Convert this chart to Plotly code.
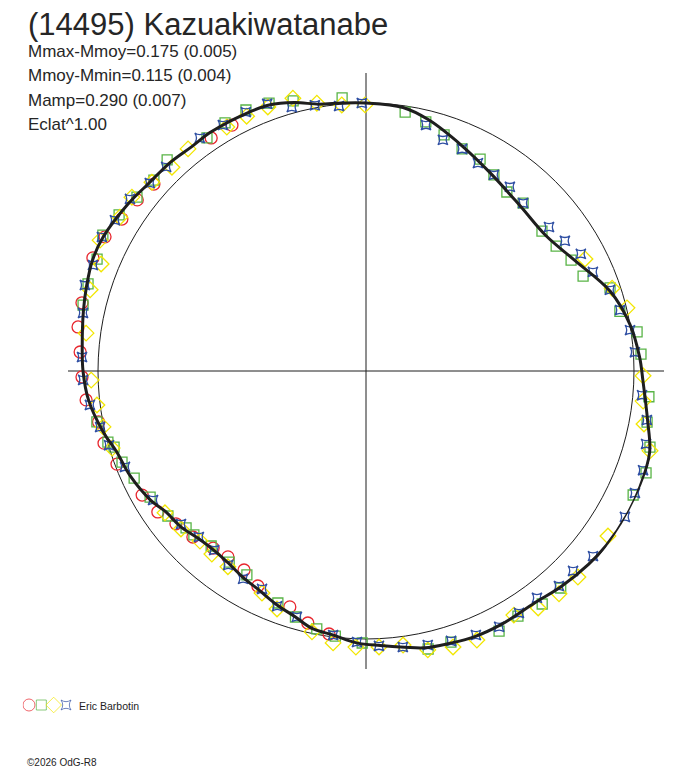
import plotly.graph_objects as go

# Fitted lightcurve (phase in degrees, radius relative to mean = 1)
fit_phase = [0, 8, 14, 23, 32, 43, 53, 62, 72, 80, 87, 92, 100, 106, 113, 119, 126, 131,
             138, 144, 152, 158, 163, 168, 172, 177, 182, 187, 192, 196, 201, 206, 211,
             216, 220, 225, 230, 235, 239, 246, 252, 257, 264, 270, 275, 282, 287, 292,
             297, 305, 311, 317, 322, 327, 335, 340, 345, 350, 355, 360]
fit_r = [1.000, 0.993, 0.966, 0.914, 0.873, 0.843, 0.840, 0.881, 0.959, 1.000, 1.022,
         1.034, 1.067, 1.101, 1.110, 1.112, 1.108, 1.100, 1.085, 1.070, 1.072, 1.071,
         1.063, 1.056, 1.041, 1.026, 1.015, 0.993, 0.981, 0.955, 0.933, 0.910, 0.896,
         0.881, 0.877, 0.884, 0.903, 0.914, 0.937, 0.963, 0.978, 1.007, 1.041, 1.056,
         1.063, 1.078, 1.090, 1.101, 1.101, 1.085, 1.071, 1.067, 1.060, 1.063, 1.060,
         1.056, 1.037, 1.011, 1.004, 1.000]

# Session 1 (red circles)
red_phase = [188.0, 193.0, 197.9, 206.7, 211.5, 216.6, 220.8, 226.2, 231.2, 235.9, 241.0,
             249.5, 254.6, 259.2, 264.1, 268.8, 273.8, 278.7, 283.5, 292.5, 297.2, 301.9,
             306.8, 311.4, 326.4, 331.4]
red_r = [0.991, 0.965, 0.925, 0.898, 0.871, 0.864, 0.873, 0.895, 0.910, 0.938, 0.955,
         0.992, 1.014, 1.016, 1.050, 1.060, 1.069, 1.087, 1.090, 1.103, 1.095, 1.073,
         1.066, 1.055, 1.044, 1.045]

# Session 2 (green squares)
green_phase = [8.6, 13.5, 18.3, 23.4, 28.3, 33.1, 38.2, 43.1, 51.5, 56.7, 61.6, 66.4, 71.2,
               76.8, 81.8, 86.5, 95.2, 100.3, 105.0, 110.0, 114.9, 119.9, 124.8, 138.1,
               142.9, 148.2, 152.9, 162.6, 167.4, 180.8, 186.6, 190.8, 196.0, 200.8, 210.3,
               215.6, 221.5, 226.4, 228.9, 233.8, 239.7, 245.2, 249.5, 253.2, 254.6, 259.3,
               283.1, 287.4, 292.6, 297.3, 302.3, 307.2, 312.0, 316.7, 325.7, 330.4, 335.3,
               340.1, 344.9, 355.0]
green_r = [0.977, 0.956, 0.928, 0.903, 0.898, 0.874, 0.850, 0.858, 0.839, 0.849, 0.870,
           0.884, 0.962, 0.973, 1.022, 1.028, 1.060, 1.066, 1.097, 1.112, 1.099, 1.115,
           1.118, 1.088, 1.090, 1.076, 1.090, 1.060, 1.063, 1.015, 0.996, 0.980, 0.955,
           0.926, 0.881, 0.877, 0.872, 0.887, 0.891, 0.916, 0.933, 0.953, 0.972, 0.982,
           0.999, 1.022, 1.084, 1.087, 1.087, 1.105, 1.090, 1.073, 1.065, 1.082, 1.053,
           1.065, 1.072, 1.063, 1.044, 1.023]

# Session 3 (yellow diamonds)
yellow_phase = [359.8, 62.9, 71.4, 76.4, 91.0, 96.2, 100.8, 105.7, 114.5, 119.2, 124.3,
                129.3, 134.2, 139.1, 144.0, 148.8, 157.6, 162.5, 167.5, 172.3, 177.3, 182.1,
                186.9, 191.7, 200.5, 205.1, 215.2, 220.1, 224.3, 229.5, 234.8, 253.1, 258.0,
                262.8, 268.1, 277.7, 286.4, 292.0, 296.2, 302.0, 306.6, 311.4, 316.4, 321.3,
                330.3, 334.9, 339.6, 345.0, 349.6, 354.8]
yellow_r = [0.993, 0.918, 0.969, 1.002, 1.034, 1.040, 1.056, 1.101, 1.124, 1.124, 1.093,
            1.114, 1.103, 1.100, 1.093, 1.065, 1.086, 1.080, 1.066, 1.032, 1.031, 1.031,
            1.022, 0.994, 0.948, 0.915, 0.894, 0.893, 0.887, 0.908, 0.918, 0.990, 1.003,
            1.012, 1.026, 1.054, 1.073, 1.066, 1.106, 1.083, 1.088, 1.065, 1.050, 1.062,
            1.048, 1.050, 1.051, 1.054, 1.016, 0.997]

# Session 4 (blue stars)
blue_phase = [359.1, 13.7, 18.4, 23.4, 28.3, 33.1, 38.0, 43.1, 51.8, 56.8, 61.4, 66.4,
              71.6, 76.5, 81.2, 86.0, 95.0, 99.9, 104.6, 109.7, 114.4, 119.4, 124.2, 129.2,
              134.0, 138.1, 143.0, 147.7, 152.5, 157.4, 162.5, 167.3, 172.4, 177.3, 181.9,
              187.1, 195.7, 200.7, 205.5, 210.6, 215.4, 220.3, 225.2, 230.4, 238.8, 248.3,
              253.9, 258.1, 263.0, 268.2, 272.8, 281.6, 287.0, 291.2, 296.9, 301.0, 306.1,
              311.0, 315.6, 324.5, 329.8, 335.1, 339.7, 344.3, 349.1, 354.2]
blue_r = [1.000, 0.945, 0.909, 0.903, 0.881, 0.874, 0.872, 0.858, 0.869, 0.887, 0.913,
          0.924, 0.959, 0.975, 0.997, 1.006, 1.034, 1.064, 1.080, 1.098, 1.102, 1.109,
          1.115, 1.093, 1.074, 1.078, 1.060, 1.068, 1.076, 1.067, 1.056, 1.048, 1.039,
          1.027, 1.012, 0.993, 0.953, 0.938, 0.901, 0.901, 0.888, 0.876, 0.879, 0.896,
          0.929, 0.968, 0.998, 1.014, 1.038, 1.056, 1.061, 1.078, 1.097, 1.093, 1.105,
          1.093, 1.090, 1.069, 1.066, 1.068, 1.062, 1.065, 1.063, 1.023, 1.010, 0.994]

title = "(14495) Kazuakiwatanabe"
stats = ["Mmax-Mmoy=0.175 (0.005)", "Mmoy-Mmin=0.115 (0.004)",
         "Mamp=0.290 (0.007)", "Eclat^1.00"]
observer = "Eric Barbotin"
credit = "\u00a92026 OdG-R8"

sessions = [
    (red_phase, red_r, "circle-open", 12, "#e8262e"),
    (green_phase, green_r, "square-open", 10, "#58b446"),
    (yellow_phase, yellow_r, "diamond-open", 12, "#f2e600"),
    (blue_phase, blue_r, "star-square-open", 9, "#2f4fa3"),
]

FONT = "Liberation Sans, Arial, sans-serif"
W, H = 680, 760   # page body has an 8px margin, so the figure is drawn 8px in
OFF = 8


def px(x):
    return (x - OFF) / W


def py(y):
    return 1 - (y - OFF) / H


fig = go.Figure()

for ph, rr, sym, sz, col in sessions:
    fig.add_trace(go.Scatterpolar(
        r=rr, theta=ph, mode="markers", cliponaxis=False,
        marker=dict(symbol=sym, size=sz, color=col, line=dict(width=1.3, color=col)),
        hoverinfo="skip"
    ))

# fitted curve on top
fig.add_trace(go.Scatterpolar(
    r=fit_r, theta=fit_phase, mode="lines", cliponaxis=False,
    line=dict(color="#1e1e1e", width=3, shape="spline"),
    hoverinfo="skip"
))

# legend key symbols, one per session
fig.add_trace(go.Scatter(
    x=list(range(len(sessions))), y=[0] * len(sessions), mode="markers",
    xaxis="x", yaxis="y",
    marker=dict(symbol=[s[2] for s in sessions], size=[s[3] for s in sessions],
                color=[s[4] for s in sessions],
                line=dict(width=1, color=[s[4] for s in sessions])),
    hoverinfo="skip"
))

annotations = [dict(text=title, x=px(26), y=py(24.5), xref="paper", yref="paper",
                    xanchor="left", yanchor="middle", showarrow=False,
                    font=dict(family=FONT, size=31, color="#262626"))]
for i, s in enumerate(stats):
    annotations.append(dict(text=s, x=px(26), y=py(51 + 24.5 * i),
                            xref="paper", yref="paper", xanchor="left", yanchor="middle",
                            showarrow=False, font=dict(family=FONT, size=17, color="#262626")))
annotations.append(dict(text=observer, x=px(77), y=py(706), xref="paper",
                        yref="paper", xanchor="left", yanchor="middle", showarrow=False,
                        font=dict(family=FONT, size=10.5, color="#1e1e1e")))
annotations.append(dict(text=credit, x=px(25), y=py(762), xref="paper",
                        yref="paper", xanchor="left", yanchor="middle", showarrow=False,
                        font=dict(family=FONT, size=10, color="#1e1e1e")))

fig.update_layout(
    width=W, height=H,
    margin=dict(l=0, r=0, t=0, b=0),
    paper_bgcolor="white", plot_bgcolor="white",
    showlegend=False,
    polar=dict(
        domain=dict(x=[px(68), px(664)], y=[py(669), py(73)]),
        bgcolor="white",
        radialaxis=dict(range=[0, 1.112], tickmode="array", tickvals=[1],
                        showgrid=True, gridcolor="#1e1e1e", gridwidth=1,
                        showline=False, showticklabels=False, ticks=""),
        angularaxis=dict(rotation=90, direction="clockwise", tickmode="array",
                         tickvals=[0, 90, 180, 270], showgrid=True, gridcolor="#1e1e1e",
                         gridwidth=1, showline=False, showticklabels=False, ticks=""),
    ),
    xaxis=dict(domain=[px(22.8), px(72.2)], range=[-0.5, 3.5], visible=False),
    yaxis=dict(domain=[py(717), py(693)], range=[-1, 1], visible=False),
    annotations=annotations,
)

fig.write_html("out.html")
